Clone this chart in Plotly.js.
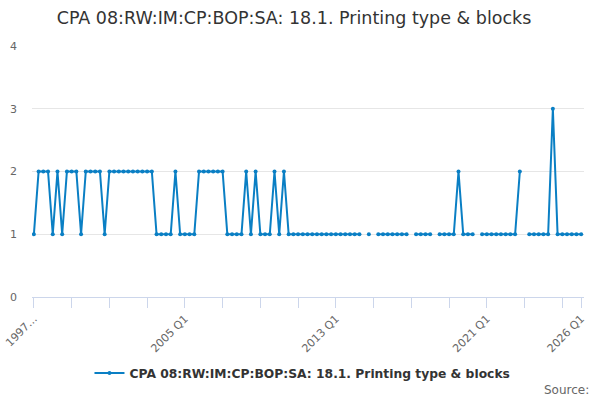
<!DOCTYPE html>
<html>
<head>
<meta charset="utf-8">
<script src="https://cdn.plot.ly/plotly-3.0.1.min.js"></script>
<style>html,body{margin:0;padding:0;background:#fff;}#chart{width:600px;height:400px;}</style>
</head>
<body>
<div id="chart"></div>
<script>
// Quarterly categories 1997 Q1 .. 2026 Q1
var startYear = 1997;
var endYear = 2026;
var quarters = [];
for (var y = startYear; y <= endYear; y++) {
  for (var q = 1; q <= 4; q++) {
    if (y === endYear && q > 1) break;
    quarters.push(y + " Q" + q);
  }
}

var values = [
  1, 2, 2, 2, 1, 2, 1, 2, 2, 2,
  1, 2, 2, 2, 2, 1, 2, 2, 2, 2,
  2, 2, 2, 2, 2, 2, 1, 1, 1, 1,
  2, 1, 1, 1, 1, 2, 2, 2, 2, 2,
  2, 1, 1, 1, 1, 2, 1, 2, 1, 1,
  1, 2, 1, 2, 1, 1, 1, 1, 1, 1,
  1, 1, 1, 1, 1, 1, 1, 1, 1, 1,
  null, 1, null, 1, 1, 1, 1, 1, 1, 1,
  null, 1, 1, 1, 1, null, 1, 1, 1, 1,
  2, 1, 1, 1, null, 1, 1, 1, 1, 1,
  1, 1, 1, 2, null, 1, 1, 1, 1, 1,
  3, 1, 1, 1, 1, 1, 1
];

var seriesName = "CPA 08:RW:IM:CP:BOP:SA: 18.1. Printing type & blocks";
var chartTitle = "CPA 08:RW:IM:CP:BOP:SA: 18.1. Printing type & blocks";
var tickLabelMap = {"1997 Q1": "1997…", "2005 Q1": "2005 Q1", "2013 Q1": "2013 Q1", "2021 Q1": "2021 Q1", "2026 Q1": "2026 Q1"};
var yTicks = [0, 1, 2, 3, 4];

var tickvals = [];
var ticktext = [];
for (var i = 0; i < quarters.length; i += 8) {
  tickvals.push(quarters[i]);
  ticktext.push(tickLabelMap[quarters[i]] || "");
}
var last = quarters[quarters.length - 1];
tickvals.push(last);
ticktext.push(tickLabelMap[last] || "");

var font = "DejaVu Sans, sans-serif";

var trace = {
  x: quarters,
  y: values,
  type: "scatter",
  mode: "lines+markers",
  name: seriesName,
  connectgaps: false,
  line: {color: "#0a7fc4", width: 2},
  marker: {color: "#0a7fc4", size: 4}
};

var layout = {
  width: 600,
  height: 400,
  margin: {l: 32, r: 16, t: 46, b: 103, autoexpand: false},
  paper_bgcolor: "#fff",
  plot_bgcolor: "#fff",
  title: {text: chartTitle, x: 0.49, xanchor: "center", y: 0.97, yanchor: "top",
          font: {family: font, size: 17.5, color: "#333333"}},
  showlegend: true,
  legend: {orientation: "h", x: 0.49, xanchor: "center", y: -0.303, yanchor: "middle",
           font: {family: font, size: 12.3, color: "#333333", weight: "bold"}},
  xaxis: {
    type: "category",
    automargin: false,
    range: [-0.4, quarters.length - 1 + 0.6],
    tickmode: "array",
    tickvals: tickvals,
    ticktext: ticktext,
    tickangle: -45,
    ticks: "outside",
    ticklen: 10,
    tickcolor: "#ccd6eb",
    showline: true,
    linecolor: "#ccd6eb",
    linewidth: 1,
    showgrid: false,
    zeroline: false,
    tickfont: {family: font, size: 11, color: "#666666"}
  },
  yaxis: {
    automargin: false,
    range: [0, 4],
    tickmode: "array",
    tickvals: yTicks,
    showgrid: true,
    gridcolor: "#e6e6e6",
    zeroline: false,
    showline: false,
    ticks: "",
    ticklabelstandoff: 14,
    tickfont: {family: font, size: 11, color: "#666666"}
  },
  annotations: [{
    text: "Source:", xref: "paper", yref: "paper", x: 1.012, y: -0.37, xanchor: "right", yanchor: "middle",
    showarrow: false, font: {family: font, size: 12, color: "#666666"}
  }]
};

Plotly.newPlot("chart", [trace], layout, {displayModeBar: false, staticPlot: true});
</script>
</body>
</html>
